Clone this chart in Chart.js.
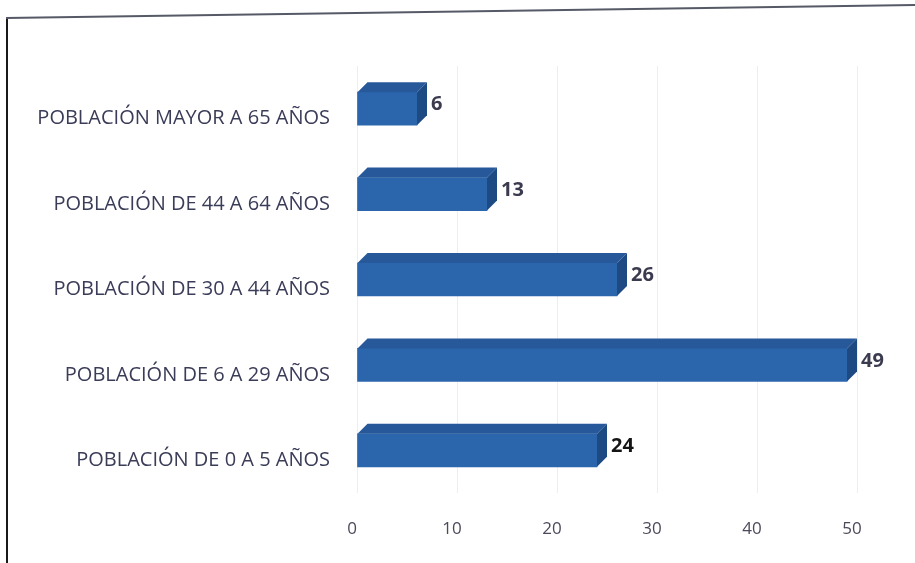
<!DOCTYPE html>
<html>
<head>
<meta charset="utf-8">
<script src="https://cdn.jsdelivr.net/npm/chart.js@4.4.1/dist/chart.umd.min.js"></script>
<style>
  html, body { margin: 0; padding: 0; background: #fff; }
  #wrap { position: relative; width: 915px; height: 563px; overflow: hidden; }
  #c { position: absolute; left: 0; top: 0; }
  .lineL { position: absolute; left: 6px; top: 18px; width: 2px; height: 560px; background: #1a1a1a; }
  .lineT { position: absolute; left: 6px; top: 17px; width: 915px; height: 2px; background: #555a66;
           transform-origin: 0 50%; transform: rotate(-0.82deg); }
</style>
</head>
<body>
<div id="wrap">
  <canvas id="c" width="915" height="563"></canvas>
  <div class="lineL"></div>
  <div class="lineT"></div>
</div>
<script>
const categories = [
  "POBLACIÓN MAYOR A 65 AÑOS",
  "POBLACIÓN DE 44 A 64 AÑOS",
  "POBLACIÓN DE 30 A 44 AÑOS",
  "POBLACIÓN DE 6 A 29 AÑOS",
  "POBLACIÓN DE 0 A 5 AÑOS"
];
const values = [6, 13, 26, 49, 24];
const labelColors = ["#3b3b4f", "#3b3b4f", "#3b3b4f", "#3b3b4f", "#151515"];
const xTicks = [0, 10, 20, 30, 40, 50];

const DEPTH = 10;

const bar3d = {
  id: 'bar3d',
  afterDatasetsDraw(chart) {
    const ctx = chart.ctx;
    const meta = chart.getDatasetMeta(0);
    ctx.save();
    meta.data.forEach((bar, i) => {
      const p = bar.getProps(['x', 'y', 'base', 'height'], true);
      const top = p.y - p.height / 2, bottom = p.y + p.height / 2;
      const x = p.x, base = p.base, d = DEPTH;
      ctx.fillStyle = '#27589a';
      ctx.beginPath();
      ctx.moveTo(base, top);
      ctx.lineTo(base + d, top - d);
      ctx.lineTo(x + d, top - d);
      ctx.lineTo(x, top);
      ctx.closePath();
      ctx.fill();
      ctx.fillStyle = '#1e4a84';
      ctx.beginPath();
      ctx.moveTo(x, top);
      ctx.lineTo(x + d, top - d);
      ctx.lineTo(x + d, bottom - d);
      ctx.lineTo(x, bottom);
      ctx.closePath();
      ctx.fill();
      ctx.fillStyle = labelColors[i];
      ctx.font = 'bold 20px "Open Sans", sans-serif';
      ctx.textAlign = 'left';
      ctx.textBaseline = 'middle';
      ctx.fillText(String(values[i]), x + d + 4, p.y - 4);
    });
    ctx.restore();
  }
};

new Chart(document.getElementById('c'), {
  type: 'bar',
  data: {
    labels: categories,
    datasets: [{
      data: values,
      backgroundColor: '#2b66ad',
      borderWidth: 0,
      barThickness: 33
    }]
  },
  options: {
    indexAxis: 'y',
    responsive: false,
    animation: false,
    events: [],
    layout: { padding: { top: 66, right: 58, left: 0, bottom: 0 } },
    plugins: { legend: { display: false }, tooltip: { enabled: false } },
    scales: {
      x: {
        min: 0, max: 50,
        afterBuildTicks: (s) => { s.ticks = xTicks.map(v => ({ value: v })); },
        afterFit: (s) => { s.height = 70; },
        border: { display: false },
        grid: { color: '#eceef1', lineWidth: 1, drawTicks: false },
        ticks: {
          padding: 26,
          labelOffset: -5,
          color: '#4a4a5c',
          font: { family: '"Open Sans", sans-serif', size: 17 }
        }
      },
      y: {
        afterFit: (s) => { s.width = 357; },
        border: { display: false },
        grid: { display: false, drawTicks: false },
        ticks: {
          padding: 27,
          labelOffset: 10,
          color: '#3a3c58',
          font: { family: '"Open Sans", sans-serif', size: 20 }
        }
      }
    }
  },
  plugins: [bar3d]
});
</script>
</body>
</html>
